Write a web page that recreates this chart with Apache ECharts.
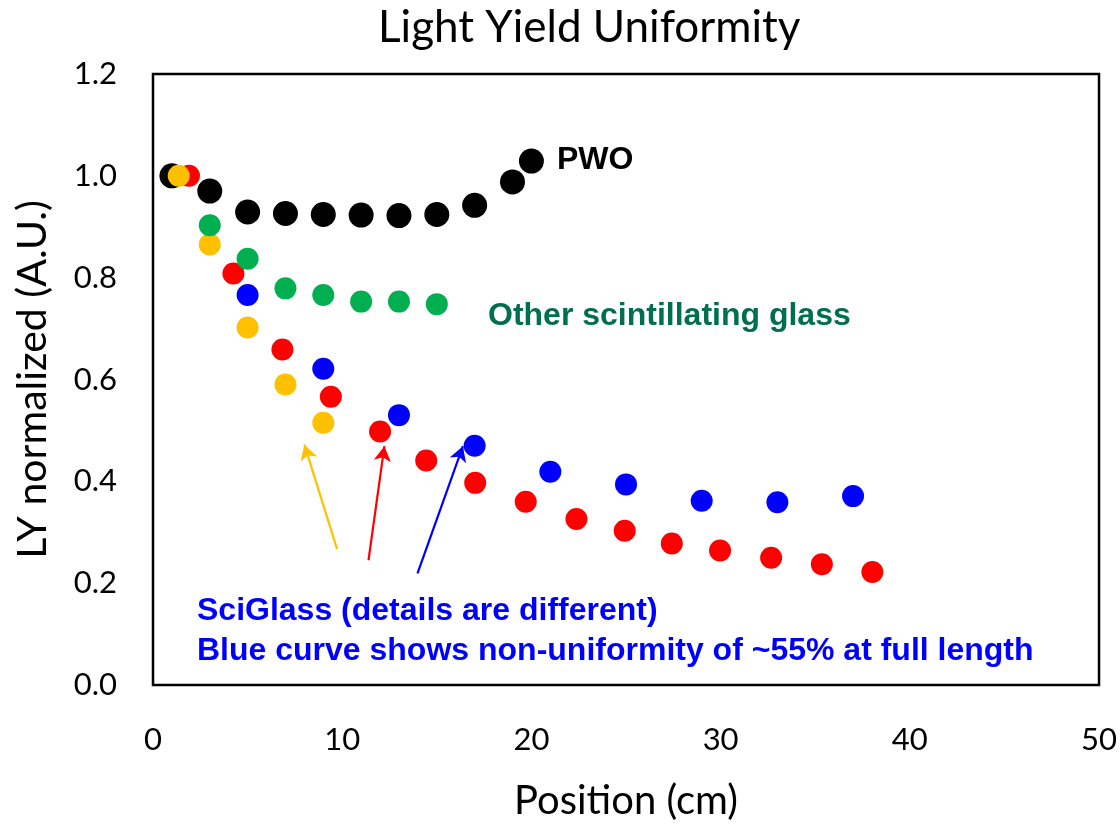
<!DOCTYPE html>
<html>
<head>
<meta charset="utf-8">
<script src="https://cdn.jsdelivr.net/npm/echarts@6/dist/echarts.min.js"></script>
<style>
html,body{margin:0;padding:0;background:#fff;}
#chart{width:1120px;height:826px;}
</style>
</head>
<body>
<div id="chart"></div>
<script>
// ---- Data ----
const pwoX = [1, 3, 5, 7, 9, 11, 13, 15, 17, 19, 20];
const pwoY = [1.0, 0.970, 0.929, 0.926, 0.924, 0.923, 0.922, 0.924, 0.942, 0.988, 1.029];

const greenX = [3, 5, 7, 9, 11, 13, 15];
const greenY = [0.903, 0.837, 0.779, 0.766, 0.753, 0.753, 0.748];

const redX = [1.9, 4.25, 6.84, 9.4, 12.0, 14.44, 17.03, 19.7, 22.38, 24.93, 27.42, 29.97, 32.67, 35.35, 38.02];
const redY = [1.0, 0.808, 0.659, 0.566, 0.498, 0.441, 0.397, 0.360, 0.326, 0.303, 0.278, 0.264, 0.250, 0.237, 0.222];

const orangeX = [1.36, 3, 5, 7, 9];
const orangeY = [1.0, 0.865, 0.702, 0.590, 0.515];

const blueX = [5, 9, 13, 17, 21, 25, 29, 33, 37];
const blueY = [0.766, 0.621, 0.530, 0.470, 0.419, 0.394, 0.362, 0.359, 0.371];

// arrows: [tailX, tailY, tipX, tipY]
const arrowOrange = [9.73, 0.267, 8.0, 0.472];
const arrowRed = [11.39, 0.245, 12.23, 0.469];
const arrowBlue = [13.98, 0.219, 16.38, 0.469];

const xTicks = [0, 10, 20, 30, 40, 50];
const yTicks = [0.0, 0.2, 0.4, 0.6, 0.8, 1.0, 1.2];

const titleText = 'Light Yield Uniformity';
const xName = 'Position (cm)';
const yName = 'LY normalized (A.U.)';

// ---- Build ----
function pairs(xs, ys){ return xs.map((x,i)=>[x, ys[i]]); }
function arrowLine(a, color){
  return {
    silent: true,
    symbol: ['none', 'arrow'],
    symbolSize: [13, 15],
    label: {show: false},
    lineStyle: {color: color, width: 2.2, type: 'solid'},
    data: [[{coord: [a[0], a[1]]}, {coord: [a[2], a[3]]}]]
  };
}

const chart = echarts.init(document.getElementById('chart'), null, {renderer: 'canvas'});
const axisFont = 'Lato, "Open Sans", sans-serif';
const noteFont = '"Liberation Sans", Arial, sans-serif';

chart.setOption({
  animation: false,
  backgroundColor: '#ffffff',
  title: {
    text: titleText,
    left: 378,
    top: 6,
    padding: 0,
    textStyle: {fontFamily: axisFont, fontWeight: 'normal', fontSize: 44, color: '#000'}
  },
  grid: {
    left: 153, right: 15, top: 74, bottom: 134,
    show: true, borderColor: '#000', borderWidth: 2.5, backgroundColor: 'transparent'
  },
  xAxis: {
    type: 'value', min: 0, max: 50, interval: 10,
    name: xName, nameLocation: 'middle', nameGap: 96,
    nameTextStyle: {fontFamily: axisFont, fontSize: 40, color: '#000'},
    axisLine: {show: false}, axisTick: {show: false}, splitLine: {show: false},
    axisLabel: {fontFamily: axisFont, fontSize: 31, color: '#000', margin: 39,
      formatter: v => xTicks.includes(v) ? String(v) : ''}
  },
  yAxis: {
    type: 'value', min: 0, max: 1.2, interval: 0.2,
    name: yName, nameLocation: 'middle', nameGap: 100, nameRotate: 90,
    nameTextStyle: {fontFamily: axisFont, fontSize: 41, color: '#000'},
    axisLine: {show: false}, axisTick: {show: false}, splitLine: {show: false},
    axisLabel: {fontFamily: axisFont, fontSize: 31, color: '#000', margin: 36,
      formatter: v => {
        const t = yTicks.find(k => Math.abs(k - v) < 1e-6);
        return t === undefined ? '' : t.toFixed(1);
      }}
  },
  series: [
    {name: 'PWO', type: 'scatter', data: pairs(pwoX, pwoY), symbolSize: 25,
     itemStyle: {color: '#000000', opacity: 1}, z: 2},
    {name: 'Red', type: 'scatter', data: pairs(redX, redY), symbolSize: 22,
     itemStyle: {color: '#FF0000', opacity: 1}, z: 3,
     markLine: arrowLine(arrowRed, '#FF0000')},
    {name: 'Orange', type: 'scatter', data: pairs(orangeX, orangeY), symbolSize: 22,
     itemStyle: {color: '#FFC000', opacity: 1}, z: 4,
     markLine: arrowLine(arrowOrange, '#FFC000')},
    {name: 'Green', type: 'scatter', data: pairs(greenX, greenY), symbolSize: 22,
     itemStyle: {color: '#00B050', opacity: 1}, z: 5},
    {name: 'Blue', type: 'scatter', data: pairs(blueX, blueY), symbolSize: 22,
     itemStyle: {color: '#0000FF', opacity: 1}, z: 6,
     markLine: arrowLine(arrowBlue, '#0000FF')}
  ],
  graphic: [
    {type: 'text', left: 557, top: 144,
     style: {text: 'PWO', font: 'bold 32px ' + noteFont, fill: '#000'}},
    {type: 'text', left: 488, top: 300,
     style: {text: 'Other scintillating glass', font: 'bold 32px ' + noteFont, fill: '#006F4E'}},
    {type: 'text', left: 197, top: 595,
     style: {text: 'SciGlass (details are different)', font: 'bold 32px ' + noteFont, fill: '#0000FF'}},
    {type: 'text', left: 197, top: 635,
     style: {text: 'Blue curve shows non-uniformity of ~55% at full length', font: 'bold 32px ' + noteFont, fill: '#0000FF'}}
  ]
});
</script>
</body>
</html>
